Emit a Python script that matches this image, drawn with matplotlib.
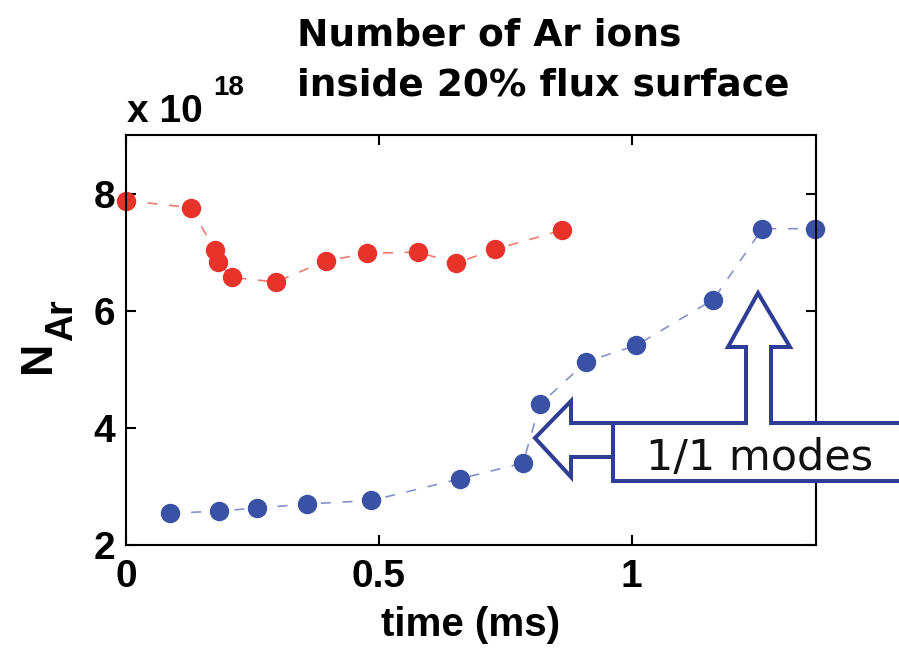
import matplotlib
matplotlib.use("Agg")
import matplotlib.pyplot as plt
from matplotlib.patches import Polygon
from matplotlib.lines import Line2D

# Ar ion count inside the 20% flux surface (units of 1e18) vs time (ms)
t_red = [0.0, 0.128, 0.176, 0.182, 0.209, 0.296, 0.395, 0.477, 0.578, 0.652, 0.730, 0.861]
n_red = [7.88, 7.76, 7.03, 6.83, 6.57, 6.49, 6.85, 6.98, 7.00, 6.81, 7.05, 7.37]

t_blue = [0.086, 0.184, 0.258, 0.358, 0.485, 0.660, 0.785, 0.818, 0.910, 1.009, 1.161, 1.258, 1.362]
n_blue = [2.54, 2.58, 2.63, 2.70, 2.76, 3.13, 3.40, 4.40, 5.13, 5.41, 6.19, 7.40, 7.40]

xticks = [0, 0.5, 1]
xtick_labels = ["0", "0.5", "1"]
yticks = [2, 4, 6, 8]

W, H = 899, 650
fig = plt.figure(figsize=(W / 100, H / 100), dpi=100)
ax = fig.add_axes([126 / W, 1 - 545 / H, (816 - 126) / W, (545 - 135) / H])

dash = (0, (6, 7))
ax.plot(t_red, n_red, ls=dash, lw=1.2, color="#f07a70", clip_on=False)
ax.plot(t_red, n_red, "o", ms=14, color="#e8332b", mec="none", clip_on=False)
ax.plot(t_blue, n_blue, ls=dash, lw=1.2, color="#8692cc", clip_on=False)
ax.plot(t_blue, n_blue, "o", ms=14, color="#3a52a6", mec="none", clip_on=False)

ax.set_xlim(0, 1.364)
ax.set_ylim(2, 9)
ax.set_xticks(xticks)
ax.set_xticklabels(xtick_labels)
ax.set_yticks(yticks)

bold = dict(family="Liberation Sans", weight="bold")
for lab in ax.get_xticklabels() + ax.get_yticklabels():
    lab.set_fontproperties(bold)
    lab.set_fontsize(28)
ax.tick_params(direction="in", length=7, width=1.5, top=True, right=True)
ax.tick_params(axis="x", pad=10)
ax.tick_params(axis="y", pad=8)
for s in ax.spines.values():
    s.set_linewidth(1.5)

ax.set_xlabel("time (ms)", fontsize=29, labelpad=8, **bold)

# y label N_Ar drawn as two rotated pieces
fig.text(50 / W, 1 - 373 / H, "N", rotation=90, rotation_mode="anchor",
         ha="left", va="baseline", fontsize=32, **bold)
fig.text(72 / W, 1 - 341 / H, "Ar", rotation=90, rotation_mode="anchor",
         ha="left", va="baseline", fontsize=27, **bold)

# exponent label
fig.text(127 / W, 1 - 122 / H, "x 10", ha="left", va="baseline", fontsize=28, **bold)
fig.text(213 / W, 1 - 95 / H, "18", ha="left", va="baseline", fontsize=20, **bold)

# title
title_font = dict(family="DejaVu Sans", weight="bold", fontsize=27)
fig.text(297 / W, 1 - 45 / H, "Number of Ar ions", ha="left", va="baseline", **title_font)
fig.text(297 / W, 1 - 95 / H, "inside 20% flux surface", ha="left", va="baseline", **title_font)

# callout with two arrows
outline = [(613, 481), (613, 457), (571, 457), (571, 477), (535, 438),
           (571, 401), (571, 423), (746, 423), (746, 347), (728, 347),
           (758, 293), (790, 347), (771, 347), (771, 423), (915, 423),
           (915, 481)]
pts = [(x / W, 1 - y / H) for x, y in outline]
box_blue = "#2f3d97"
fig.add_artist(Polygon(pts, closed=True, transform=fig.transFigure,
                       facecolor="white", edgecolor=box_blue, lw=2.9,
                       joinstyle="miter", zorder=5))
fig.add_artist(Line2D([613 / W, 613 / W], [1 - 423 / H, 1 - 457 / H],
                      transform=fig.transFigure, color=box_blue, lw=2.9, zorder=6))
fig.text(646 / W, 1 - 470 / H, "1/1 modes", ha="left", va="baseline",
         family="DejaVu Sans", fontsize=31, color="#111111", zorder=7)

fig.savefig("out.png", dpi=100)
